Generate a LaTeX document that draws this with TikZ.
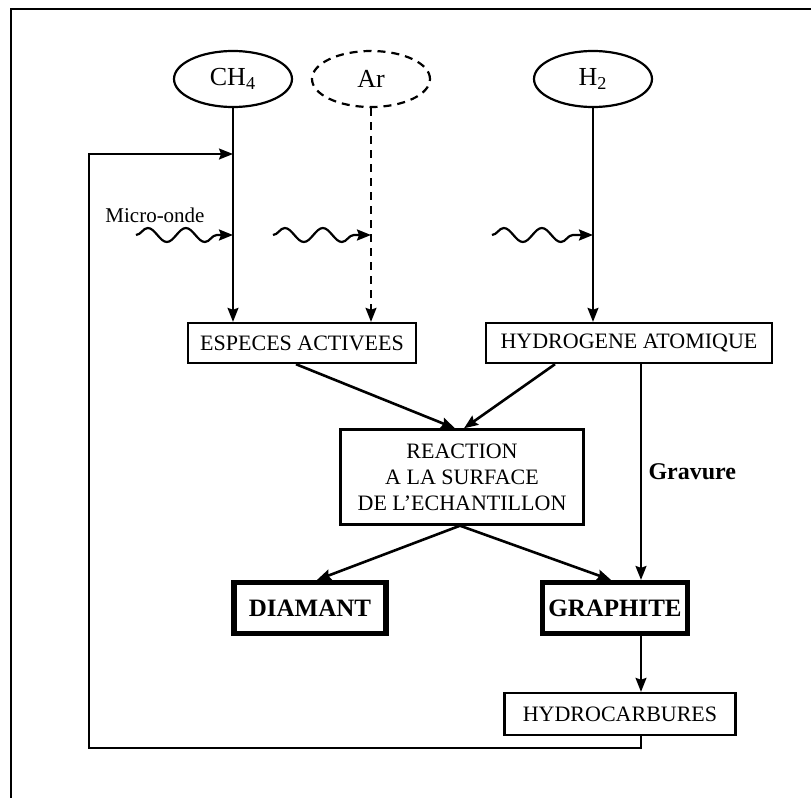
\documentclass[tikz,border=0pt]{standalone}
\usepackage{fontspec}
\setmainfont{Liberation Serif}
\usetikzlibrary{shapes.geometric,arrows.meta,decorations.pathmorphing}

\begin{document}
\begin{tikzpicture}[x=0.5pt, y=-0.5pt,
    gas/.style={ellipse, draw, line width=1.1pt, minimum width=59pt, minimum height=28pt, font=\fontsize{13}{15}\selectfont},
    box/.style={rectangle, draw, line width=1.2pt, minimum height=20pt, inner sep=2pt, font=\fontsize{11}{13}\selectfont},
    product/.style={box, line width=2.6pt, minimum height=25.5pt, font=\bfseries\fontsize{12.5}{14}\selectfont},
    arr/.style={-{Stealth[length=7pt, width=5.5pt, inset=1pt]}, line width=0.9pt},
    flow/.style={arr, line width=1.3pt},
    wave/.style={arr, line width=1.1pt, decorate, decoration={snake, amplitude=3.5pt, segment length=19pt, post length=6pt}}]

  \useasboundingbox (0,0) rectangle (811,798);

  % Frame (top and left edges only)
  \draw[line width=1.1pt] (11,798) -- (11,9) -- (811,9);

  % Gas sources
  \node[gas] (ch4) at (233,79) {CH\textsubscript{4}};
  \node[gas, dashed, dash pattern=on 4pt off 3pt] (ar) at (371,79) {Ar};
  \node[gas] (h2) at (593,79) {H\textsubscript{2}};

  % Plasma products
  \node[box, minimum width=114pt] (esp) at (302,343) {ESPECES ACTIVEES};
  \node[box, minimum width=143pt] (hyd) at (629,343) {HYDROGENE ATOMIQUE};

  % Surface reaction
  \node[box, minimum width=121.5pt, minimum height=47.5pt, align=center] (reac) at (462,477)
    {REACTION\\A LA SURFACE\\DE L'ECHANTILLON};

  % Deposits
  \node[product, minimum width=76pt] (diam) at (310,608) {DIAMANT};
  \node[product, minimum width=72.5pt] (graph) at (615,608) {GRAPHITE};
  \node[box, minimum width=115.5pt, minimum height=21pt] (hydc) at (620,714) {HYDROCARBURES};

  % Return loop corners
  \coordinate (ret1) at (641,748);
  \coordinate (ret2) at (89,748);
  \coordinate (ret3) at (89,154);

  % Gas feeds
  \draw[arr] (ch4.south) -- (ch4.south |- esp.north);
  \draw[arr, dashed, dash pattern=on 4pt off 3pt] (ar.south) -- (ar.south |- esp.north);
  \draw[arr] (h2.south) -- (h2.south |- hyd.north);

  % Micro-wave excitation
  \node[font=\fontsize{10.5}{12}\selectfont] (mo) at (155,215) {Micro-onde};
  \foreach \s/\t in {136/ch4, 273/ar, 492/h2} {
    \coordinate (w\t) at (\s,235);
    \draw[wave] (w\t) -- (w\t -| \t.south);
  }

  % Towards the surface
  \draw[flow] ([xshift=-3pt]esp.south) -- ([xshift=-3.5pt]reac.north);
  \draw[flow] ([xshift=-37pt]hyd.south) -- ([xshift=1pt]reac.north);
  \draw[flow] ([xshift=-1pt]reac.south) -- ([xshift=3.5pt]diam.north);
  \draw[flow] ([xshift=-1pt]reac.south) -- ([xshift=-2pt]graph.north);

  % Etching and recycling
  \draw[arr] (hyd.south -| ret1) -- node[right, font=\bfseries\fontsize{12}{14}\selectfont] {Gravure} (graph.north -| ret1);
  \draw[arr] (graph.south -| ret1) -- (hydc.north -| ret1);
  \draw[arr] (hydc.south -| ret1) -- (ret1) -- (ret2) -- (ret3) -- (ret3 -| ch4.south);

\end{tikzpicture}
\end{document}
